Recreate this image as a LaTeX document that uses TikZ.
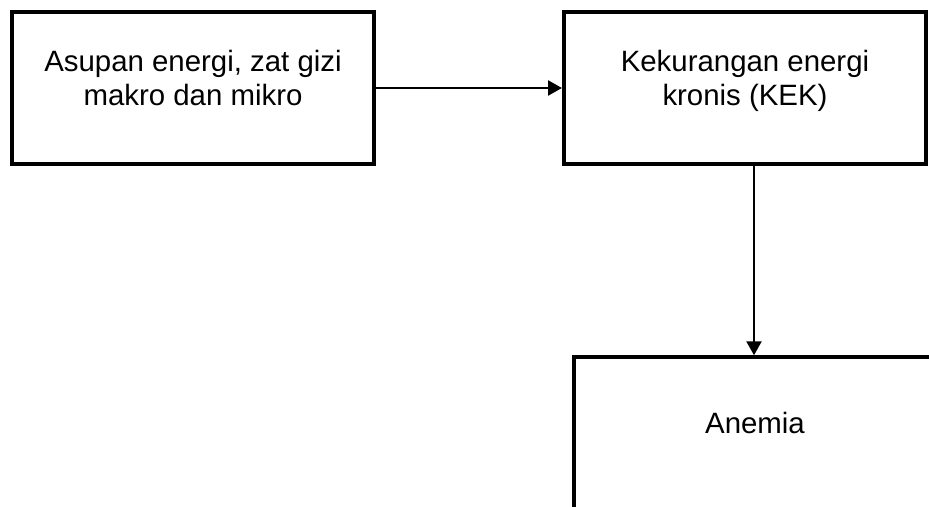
\documentclass[tikz,border=0pt]{standalone}
\usepackage{fontspec}
\setmainfont{Liberation Sans}
\usetikzlibrary{arrows.meta}
\begin{document}
\begin{tikzpicture}[x=1pt,y=-1pt,
  box/.style={draw=black,line width=4pt,inner sep=0pt,rectangle},
  lbl/.style={inner sep=0pt,align=center,font=\fontsize{29.4}{33.5}\selectfont,anchor=base},
  arr/.style={draw=black,line width=2.4pt,-{Triangle[length=14pt,width=15pt]}}]
\useasboundingbox (0,0) rectangle (929,506);
\clip (0,0) rectangle (929,506);
\fill[white] (0,0) rectangle (929,506);
\node[box,minimum width=362pt,minimum height=152pt] (b1) at (193,88) {};
\node[box,minimum width=362pt,minimum height=152pt] (b2) at (745,88) {};
\node[box,line width=3.5pt,minimum width=360pt,minimum height=153pt] (b3) at (754,433.5) {};
\node[lbl] (t1) at (193,105) {Asupan energi, zat gizi\\makro dan mikro};
\node[lbl] (t2) at (745,105) {Kekurangan energi\\kronis (KEK)};
\node[lbl] (t3) at (755,433) {Anemia};
\draw[arr] (b1.east) -- (b1.east -| b2.west);
\draw[arr] (b2.south -| b3.north) -- (b3.north);
\end{tikzpicture}
\end{document}
